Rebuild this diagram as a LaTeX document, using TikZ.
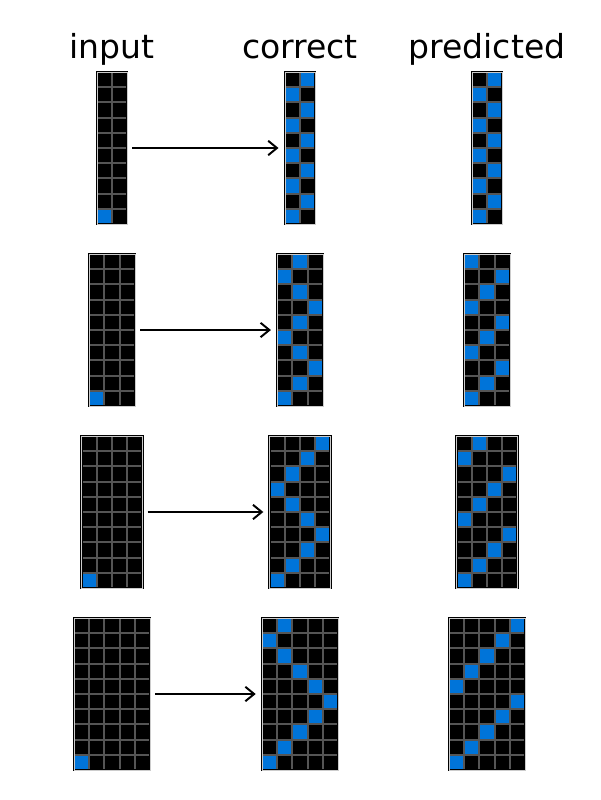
\documentclass[tikz,border=0pt]{standalone}
\usepackage{fontspec}
\setmainfont{DejaVu Sans}
\usetikzlibrary{arrows.meta}

\definecolor{arcblue}{HTML}{0074D9}
\definecolor{gridgray}{HTML}{555555}

% #1 name, #2 centre x, #3 top y, #4 columns, #5 blue column per row (-1 = none)
\newcommand{\arcgrid}[5]{%
    \begin{scope}[shift={({#2-#4*0.19},#3)}, x=0.38cm, y=-0.38cm]
        \fill[black] (0,0) rectangle (#4,10);
        \foreach \b [count=\r from 0] in {#5}{%
            \ifnum\b>-1 \fill[arcblue] (\b,\r) rectangle ++(1,1);\fi}
        \foreach \i in {0,...,#4} \draw[cellline] (\i,0) -- (\i,10);
        \foreach \j in {0,...,10} \draw[cellline] (0,\j) -- (#4,\j);
        \draw[gridframe] (0,0) rectangle (#4,10);
        \draw[outerline] (0,0) rectangle (#4,10);
        \node[gridbox, minimum width=#4*0.38cm] (#1) at (#4/2,5) {};
    \end{scope}}

\begin{document}
\begin{tikzpicture}[
        cellline/.style={gridgray, line width=1.3pt},
        gridframe/.style={black, line width=1.6pt},
        outerline/.style={black!20, line width=0.3pt},
        gridbox/.style={inner sep=0pt, minimum height=3.8cm},
        arrow/.style={black, -{Straight Barb[length=0.22cm, width=0.36cm]}, line width=1.4pt, shorten <=0.125cm, shorten >=0.15cm},
        title/.style={font=\fontsize{23.5}{28}\selectfont, anchor=base}
    ]
    \useasboundingbox (0,0) rectangle (15,-20);

    % ==========================================
    % TITLES
    % ==========================================
    \node[title] (tin) at (2.8,-1.45) {input};
    \node[title] (tco) at (7.5,-1.45) {correct};
    \node[title] (tpr) at (12.175,-1.45) {predicted};

    % ==========================================
    % ROW 1: 2 columns
    % ==========================================
    \begin{scope}[yshift=0cm]
        \arcgrid{in1}{2.8}{-1.8}{2}{-1,-1,-1,-1,-1,-1,-1,-1,-1,0}
        \arcgrid{co1}{7.5}{-1.8}{2}{1,0,1,0,1,0,1,0,1,0}
        \arcgrid{pr1}{12.175}{-1.8}{2}{1,0,1,0,1,0,1,0,1,0}
        \draw[arrow] (in1.east) -- (co1.west);
    \end{scope}

    % ==========================================
    % ROW 2: 3 columns
    % ==========================================
    \begin{scope}[yshift=-4.55cm]
        \arcgrid{in2}{2.8}{-1.8}{3}{-1,-1,-1,-1,-1,-1,-1,-1,-1,0}
        \arcgrid{co2}{7.5}{-1.8}{3}{1,0,1,2,1,0,1,2,1,0}
        \arcgrid{pr2}{12.175}{-1.8}{3}{0,2,1,0,2,1,0,2,1,0}
        \draw[arrow] (in2.east) -- (co2.west);
    \end{scope}

    % ==========================================
    % ROW 3: 4 columns
    % ==========================================
    \begin{scope}[yshift=-9.1cm]
        \arcgrid{in3}{2.8}{-1.8}{4}{-1,-1,-1,-1,-1,-1,-1,-1,-1,0}
        \arcgrid{co3}{7.5}{-1.8}{4}{3,2,1,0,1,2,3,2,1,0}
        \arcgrid{pr3}{12.175}{-1.8}{4}{1,0,3,2,1,0,3,2,1,0}
        \draw[arrow] (in3.east) -- (co3.west);
    \end{scope}

    % ==========================================
    % ROW 4: 5 columns
    % ==========================================
    \begin{scope}[yshift=-13.65cm]
        \arcgrid{in4}{2.8}{-1.8}{5}{-1,-1,-1,-1,-1,-1,-1,-1,-1,0}
        \arcgrid{co4}{7.5}{-1.8}{5}{1,0,1,2,3,4,3,2,1,0}
        \arcgrid{pr4}{12.175}{-1.8}{5}{4,3,2,1,0,4,3,2,1,0}
        \draw[arrow] (in4.east) -- (co4.west);
    \end{scope}

\end{tikzpicture}
\end{document}
